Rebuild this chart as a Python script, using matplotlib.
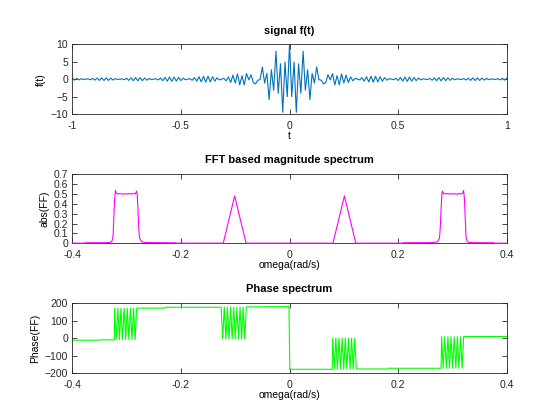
import numpy as np
import matplotlib
matplotlib.use("Agg")
import matplotlib.pyplot as plt

# ---- data ----
# signal f(t), sampled on 193 points from t=-1 to t=1
sig_right = [10.00, -5.00, 4.88, -9.46, 4.39, -4.04, 7.96, -3.17, 2.68, -5.81,
             1.64, -1.12, 3.46, -0.15, -0.28, -1.34, -1.00, 1.27, -0.20, 1.60,
             -1.66, 1.00, -1.62, 1.51, -1.09, 1.17, -0.95, 0.66, -0.47, 0.23,
             0.00, -0.22, 0.41, -0.57, 0.70, -0.79, 0.85, -0.86, 0.84, -0.78,
             0.69, -0.58, 0.45, -0.30, 0.15, 0.00, -0.15, 0.28, -0.39, 0.49,
             -0.55, 0.60, -0.61, 0.60, -0.56, 0.50, -0.43, 0.33, -0.22, 0.11,
             0.00, -0.11, 0.21, -0.30, 0.37, -0.43, 0.46, -0.48, 0.47, -0.44,
             0.40, -0.34, 0.26, -0.18, 0.09, 0.00, -0.09, 0.17, -0.24, 0.30,
             -0.35, 0.38, -0.39, 0.38, -0.36, 0.33, -0.28, 0.22, -0.15, 0.08,
             0.00, -0.07, 0.14, -0.20, 0.25, -0.29, 0.32]
sig_left = [0.32, -0.29, 0.25, -0.20, 0.14, -0.07, 0.00,
            0.08, -0.15, 0.22, -0.28, 0.33, -0.36, 0.38, -0.39, 0.38, -0.35,
            0.30, -0.24, 0.17, -0.09, 0.00, 0.09, -0.18, 0.26, -0.34, 0.40,
            -0.44, 0.47, -0.48, 0.46, -0.43, 0.37, -0.30, 0.21, -0.11, 0.00,
            0.11, -0.22, 0.33, -0.43, 0.50, -0.56, 0.60, -0.61, 0.60, -0.55,
            0.49, -0.39, 0.28, -0.15, 0.00, 0.15, -0.30, 0.45, -0.58, 0.69,
            -0.78, 0.84, -0.86, 0.85, -0.79, 0.70, -0.57, 0.41, -0.22, 0.00,
            0.23, -0.47, 0.66, -0.95, 1.17, -1.09, 1.51, -1.62, 1.00, -1.66,
            1.60, -0.20, 1.27, -1.00, -1.34, -0.28, -0.15, 3.46, -1.12, 1.64,
            -5.81, 2.68, -3.17, 7.96, -4.04, 4.39, -9.46, 4.88, -5.00]
f_vals = sig_left + sig_right
t = np.linspace(-1, 1, len(f_vals))

# magnitude spectrum
w_mag = [-0.400, -0.378, -0.376, -0.340, -0.330, -0.327, -0.325, -0.3235, -0.322,
         -0.3205, -0.319, -0.316, -0.312, -0.308, -0.304, -0.300, -0.296, -0.292,
         -0.288, -0.284, -0.2815, -0.2805, -0.279, -0.2775, -0.276, -0.273, -0.270,
         -0.260, -0.210, -0.206, -0.122, -0.101, -0.080,
         0.080, 0.101, 0.122, 0.206, 0.210, 0.260, 0.270, 0.273, 0.276, 0.2775,
         0.279, 0.2805, 0.2815, 0.284, 0.288, 0.292, 0.296, 0.300, 0.304, 0.308,
         0.312, 0.316, 0.319, 0.3205, 0.322, 0.3235, 0.325, 0.327, 0.330, 0.340,
         0.376, 0.378, 0.400]
mag = [0, 0, 0.004, 0.005, 0.008, 0.02, 0.06, 0.25, 0.45,
       0.535, 0.51, 0.50, 0.505, 0.498, 0.503, 0.499, 0.504, 0.50,
       0.505, 0.50, 0.53, 0.50, 0.35, 0.15, 0.05, 0.02, 0.01,
       0.006, 0.004, 0, 0, 0.48, 0,
       0, 0.48, 0, 0, 0.004, 0.006, 0.01, 0.02, 0.05, 0.15,
       0.35, 0.50, 0.53, 0.50, 0.505, 0.50, 0.504, 0.499, 0.503, 0.498,
       0.505, 0.50, 0.51, 0.535, 0.45, 0.25, 0.06, 0.02, 0.008, 0.005,
       0.004, 0, 0]

# phase spectrum (degrees)
w_ph = [-0.400, -0.350, -0.349, -0.3225,
        -0.3220, -0.3190, -0.3161, -0.3132, -0.3103, -0.3074, -0.3045, -0.3016,
        -0.2987, -0.2958, -0.2929, -0.2900, -0.2871, -0.2842, -0.2813,
        -0.230, -0.229, -0.1265,
        -0.1260, -0.1230, -0.1201, -0.1172, -0.1143, -0.1114, -0.1085, -0.1056,
        -0.1027, -0.0998, -0.0969, -0.0940, -0.0911, -0.0882, -0.0853, -0.0824,
        -0.0795, -0.001, 0.0005,
        0.0785, 0.0795, 0.0824, 0.0853, 0.0882, 0.0911, 0.0940, 0.0969, 0.0998,
        0.1027, 0.1056, 0.1085, 0.1114, 0.1143, 0.1172, 0.1201, 0.1230,
        0.181, 0.182, 0.2790,
        0.2800, 0.2829, 0.2858, 0.2887, 0.2916, 0.2945, 0.2974, 0.3003, 0.3032,
        0.3061, 0.3090, 0.3119, 0.3148, 0.3177, 0.3206,
        0.400]
phase = [-12, -12, -10, -10,
         172, -8, 172, -8, 172, -8, 172, -8,
         172, -8, 172, -8, 172, -8, 172,
         172, 177, 177,
         177, -5, 178, -5, 178, -5, 178, -5,
         178, -5, 178, -5, 178, -5, 178, -5,
         179, 181, -179,
         -179, 0, -179, 0, -179, 0, -179, 0, -179,
         0, -179, 0, -179, 0, -179, 0, -177,
         -177, -173, -173,
         8, -173, 8, -173, 8, -173, 8, -173, 8,
         -173, 8, -173, 8, -173, 9,
         9]

plt.rcParams['font.family'] = ['Liberation Sans', 'DejaVu Sans']
plt.rcParams['font.size'] = 7.5
axcol = '#262626'


def octave_style(ax):
    ax.tick_params(direction='in', top=True, right=True, length=3.5,
                   width=0.6, colors=axcol, labelsize=7.5)
    ax.tick_params(axis='x', pad=5)
    ax.tick_params(axis='y', pad=3)
    for s in ax.spines.values():
        s.set_linewidth(0.6)
        s.set_color(axcol)


fig = plt.figure(figsize=(5.6, 4.2), dpi=100)

ax1 = fig.add_axes([0.129, 0.728, 0.776, 0.167])
ax1.plot(t, f_vals, color='#0072BD', lw=0.8)
ax1.set_xlim(-1, 1)
ax1.set_ylim(-10, 10)
ax1.set_xticks([-1, -0.5, 0, 0.5, 1])
ax1.set_xticklabels(['-1', '-0.5', '0', '0.5', '1'])
ax1.set_yticks([-10, -5, 0, 5, 10])
ax1.set_title('signal f(t)', fontweight='bold', fontsize=8, pad=7)
ax1.set_xlabel('t', labelpad=0)
ax1.set_ylabel('f(t)', labelpad=3)
octave_style(ax1)

ax2 = fig.add_axes([0.129, 0.421, 0.776, 0.164])
ax2.plot(w_mag, mag, color='#FF00FF', lw=0.8, zorder=3, clip_on=False)
ax2.set_xlim(-0.4, 0.4)
ax2.set_ylim(0, 0.7)
ax2.set_xticks([-0.4, -0.2, 0, 0.2, 0.4])
ax2.set_xticklabels(['-0.4', '-0.2', '0', '0.2', '0.4'])
ax2.set_yticks([0, 0.1, 0.2, 0.3, 0.4, 0.5, 0.6, 0.7])
ax2.set_yticklabels(['0', '0.1', '0.2', '0.3', '0.4', '0.5', '0.6', '0.7'])
ax2.set_title('FFT based magnitude spectrum', fontweight='bold', fontsize=8, pad=8)
ax2.set_xlabel('omega(rad/s)', labelpad=0)
ax2.set_ylabel('abs(FF)', labelpad=3)
octave_style(ax2)

ax3 = fig.add_axes([0.129, 0.112, 0.776, 0.166])
ax3.plot(w_ph, phase, color='#00FF00', lw=0.8)
ax3.set_xlim(-0.4, 0.4)
ax3.set_ylim(-200, 200)
ax3.set_xticks([-0.4, -0.2, 0, 0.2, 0.4])
ax3.set_xticklabels(['-0.4', '-0.2', '0', '0.2', '0.4'])
ax3.set_yticks([-200, -100, 0, 100, 200])
ax3.set_title('Phase spectrum', fontweight='bold', fontsize=8, pad=8)
ax3.set_xlabel('omega(rad/s)', labelpad=0)
ax3.set_ylabel('Phase(FF)', labelpad=3)
octave_style(ax3)

fig.savefig('out.png', dpi=100)
